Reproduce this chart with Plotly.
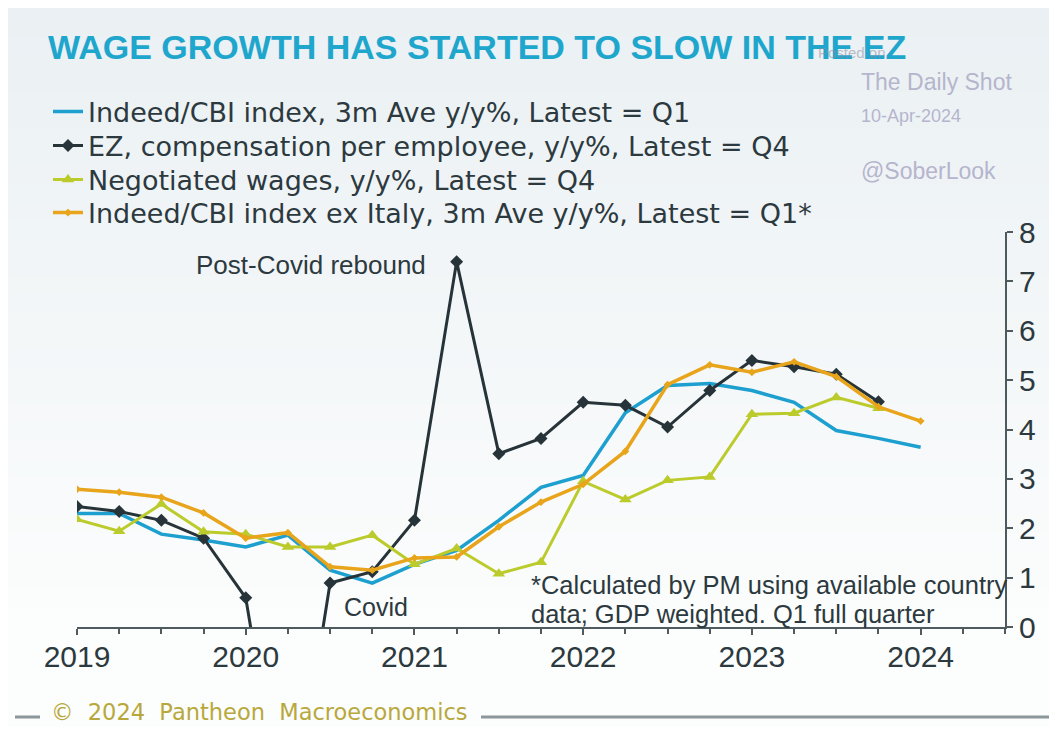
import plotly.graph_objects as go

# ---------------- data ----------------
quarters = ["2019Q1", "2019Q2", "2019Q3", "2019Q4",
            "2020Q1", "2020Q2", "2020Q3", "2020Q4",
            "2021Q1", "2021Q2", "2021Q3", "2021Q4",
            "2022Q1", "2022Q2", "2022Q3", "2022Q4",
            "2023Q1", "2023Q2", "2023Q3", "2023Q4",
            "2024Q1"]

indeed_cbi = [2.30, 2.30, 1.88, 1.76, 1.62, 1.86, 1.15, 0.89, 1.27, 1.55, 2.16, 2.83,
              3.07, 4.34, 4.89, 4.93, 4.79, 4.55, 3.98, 3.82, 3.64]
ez_comp = [2.44, 2.34, 2.16, 1.80, 0.59, -4.5, 0.89, 1.12, 2.16, 7.40, 3.51, 3.82,
           4.55, 4.49, 4.05, 4.79, 5.40, 5.27, 5.12, 4.56, None]
negotiated = [2.18, 1.94, 2.49, 1.93, 1.88, 1.62, 1.62, 1.86, 1.27, 1.59, 1.08, 1.31,
              2.95, 2.58, 2.97, 3.04, 4.31, 4.33, 4.65, 4.43, None]
indeed_ex_italy = [2.79, 2.73, 2.63, 2.31, 1.80, 1.91, 1.22, 1.15, 1.40, 1.42, 2.03, 2.53,
                   2.89, 3.56, 4.91, 5.31, 5.16, 5.37, 5.07, 4.46, 4.17]

series_names = ["Indeed/CBI index, 3m Ave y/y%, Latest = Q1",
                "EZ, compensation per employee, y/y%, Latest = Q4",
                "Negotiated wages, y/y%, Latest = Q4",
                "Indeed/CBI index ex Italy, 3m Ave y/y%, Latest = Q1*"]

year_ticks = [2019, 2020, 2021, 2022, 2023, 2024]
year_labels = ["2019", "2020", "2021", "2022", "2023", "2024"]
y_ticks = [0, 1, 2, 3, 4, 5, 6, 7, 8]

x = [int(q[:4]) + (int(q[-1]) - 1) / 4 for q in quarters]

# ---------------- styles ----------------
TEXT = "#2c393e"
AXIS = "#4f5a5e"
BLUE = "#1d9fcf"
BLACK = "#263338"
GREEN = "#bccb2c"
ORANGE = "#e8a51b"
FONT = "Liberation Sans, Arial, sans-serif"
LFONT = "DejaVu Sans, sans-serif"

# page body has an 8px margin: build the figure 16px smaller, and
# express positions in window pixels (OFF subtracted)
OFF = 8
W, H = 1057 - 2 * OFF, 735 - 2 * OFF
PL, PR_, PT, PB = 77, 1005, 232, 627          # plot area in window pixels
L, T = PL - OFF, PT - OFF
PW, PH = PR_ - PL, PB - PT
R, B = W - L - PW, H - T - PH


def px_x(p):
    return (p - OFF - L) / PW


def px_y(p):
    return (H - B - (p - OFF)) / PH


fig = go.Figure()

fig.add_trace(go.Scatter(x=x, y=indeed_cbi, name=series_names[0], mode="lines",
                         line=dict(color=BLUE, width=3.5), legend="legend"))
fig.add_trace(go.Scatter(x=x, y=ez_comp, name=series_names[1], mode="lines+markers",
                         line=dict(color=BLACK, width=3),
                         marker=dict(symbol="diamond", size=10, color=BLACK), legend="legend2"))
fig.add_trace(go.Scatter(x=x, y=negotiated, name=series_names[2], mode="lines+markers",
                         line=dict(color=GREEN, width=3),
                         marker=dict(symbol="triangle-up", size=11, color=GREEN), legend="legend3"))
fig.add_trace(go.Scatter(x=x, y=indeed_ex_italy, name=series_names[3], mode="lines+markers",
                         line=dict(color=ORANGE, width=3.5),
                         marker=dict(symbol="diamond", size=6, color=ORANGE), legend="legend4"))

# background gradient (style only)
shapes = []
n = 40
top_c = (234, 240, 243)
bot_c = (252, 253, 253)
y0px, y1px = 0, 735
for i in range(n):
    a = y0px + (y1px - y0px) * i / n
    b = y0px + (y1px - y0px) * (i + 1) / n
    t = i / (n - 1)
    c = tuple(int(round(top_c[k] + (bot_c[k] - top_c[k]) * min(1, t * 1.15))) for k in range(3))
    shapes.append(dict(type="rect", xref="paper", yref="paper", layer="below",
                       x0=px_x(0), x1=px_x(1070), y0=px_y(a), y1=px_y(b + 0.5),
                       line=dict(width=0), fillcolor="rgb(%d,%d,%d)" % c))
# footer rules
shapes.append(dict(type="line", xref="paper", yref="paper", x0=px_x(15), x1=px_x(40),
                   y0=px_y(717), y1=px_y(717), line=dict(color="#8c979b", width=3)))
shapes.append(dict(type="line", xref="paper", yref="paper", x0=px_x(481), x1=px_x(1070),
                   y0=px_y(717), y1=px_y(717), line=dict(color="#8c979b", width=3)))


def ann(text, xp, yp, size, color=TEXT, family=FONT, xanchor="left", yanchor="middle"):
    return dict(text=text, xref="paper", yref="paper", x=px_x(xp), y=px_y(yp),
                xanchor=xanchor, yanchor=yanchor, showarrow=False,
                font=dict(family=family, size=size, color=color))


annotations = [
    ann("<b>WAGE GROWTH HAS STARTED TO SLOW IN THE EZ</b>", 46, 47, 34, "#1fa6cd"),
    ann("Posted on", 816, 52, 15, "rgba(140,140,160,0.55)"),
    ann("The Daily Shot", 859, 82, 23, "#b5b5cd"),
    ann("10-Apr-2024", 859, 116, 18, "#b5b5cd"),
    ann("@SoberLook", 859, 171, 23, "#b5b5cd"),
    ann("Post-Covid rebound", 311, 265, 26, xanchor="center"),
    ann("Covid", 376, 607, 25, xanchor="center"),
    ann("*Calculated by PM using available country", 529, 585, 25.5),
    ann("data; GDP weighted. Q1 full quarter", 529, 614, 25.5),
    ann("©  2024  Pantheon  Macroeconomics", 49, 735 - OFF, 22.5, "#b8a83c", LFONT,
        yanchor="bottom"),
]

legend_rows = [112, 146, 180, 213]
legends = {}
for i, key in enumerate(["legend", "legend2", "legend3", "legend4"]):
    legends[key] = dict(x=px_x(48), y=px_y(legend_rows[i]), xanchor="left", yanchor="middle",
                        bgcolor="rgba(0,0,0,0)", borderwidth=0,
                        font=dict(family=LFONT, size=27, color=TEXT), itemwidth=30)

fig.update_layout(
    width=W, height=H, autosize=False,
    margin=dict(l=L, r=R, t=T, b=B, pad=0),
    paper_bgcolor="white", plot_bgcolor="rgba(0,0,0,0)",
    shapes=shapes, annotations=annotations,
    showlegend=True,
    xaxis=dict(range=[2019, 2024.5], tickvals=year_ticks, ticktext=year_labels,
               showgrid=False, zeroline=False, showline=True, linecolor=AXIS, linewidth=2,
               ticks="outside", ticklen=6, tickwidth=2, tickcolor=AXIS,
               ticklabelstandoff=-4,
               tickfont=dict(family=FONT, size=30, color=TEXT),
               minor=dict(dtick=0.25, tick0=2019, ticks="outside", ticklen=5,
                          tickwidth=1.5, tickcolor=AXIS, showgrid=False),
               fixedrange=True),
    yaxis=dict(range=[0, 8], tickvals=y_ticks, side="right",
               showgrid=False, zeroline=False, showline=True, linecolor=AXIS, linewidth=2,
               ticks="outside", ticklen=6, tickwidth=2, tickcolor=AXIS,
               tickfont=dict(family=FONT, size=30, color=TEXT),
               fixedrange=True),
    **legends,
)

fig.write_html("out.html")
